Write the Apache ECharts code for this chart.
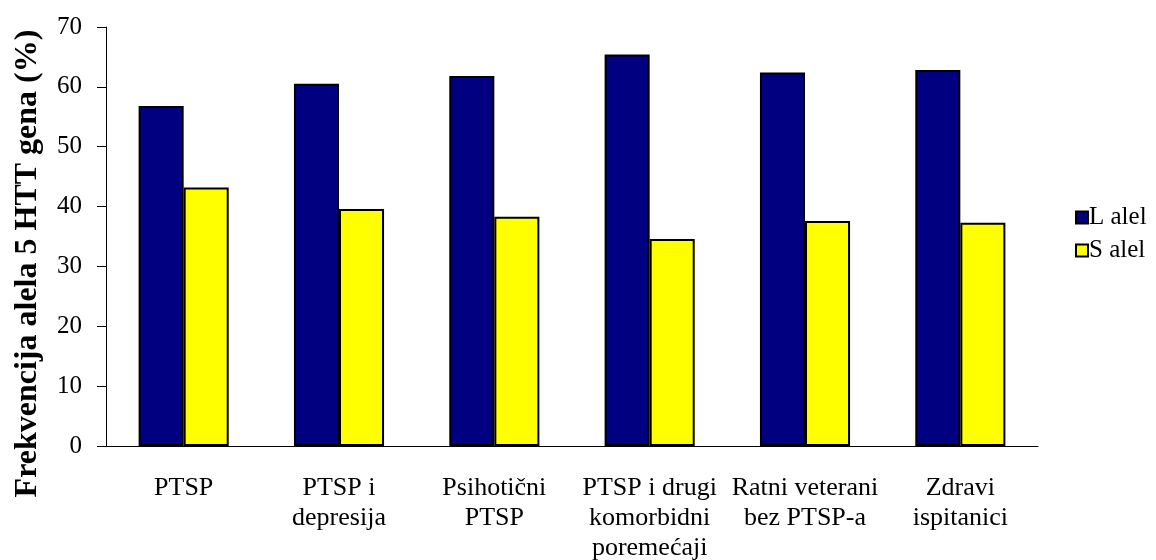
<!DOCTYPE html>
<html>
<head>
<meta charset="utf-8">
<script src="https://cdn.jsdelivr.net/npm/echarts@6/dist/echarts.min.js"></script>
<style>
    html, body { margin: 0; padding: 0; background: #fff; }
    #chart { width: 1156px; height: 560px; }
</style>
</head>
<body>
<div id="chart"></div>
<script>
    // kategorije i vrijednosti ocitane sa slike
    var categories = ['PTSP', 'PTSP i\ndepresija', 'Psihotični\nPTSP', 'PTSP i drugi\nkomorbidni\nporemećaji', 'Ratni veterani\nbez PTSP-a', 'Zdravi\nispitanici'];
    var lAlel = [56.8, 60.5, 61.8, 65.4, 62.4, 62.8];
    var sAlel = [43.2, 39.6, 38.3, 34.6, 37.6, 37.3];
    var yTicks = [0, 10, 20, 30, 40, 50, 60, 70];

    var font = "'Liberation Serif', 'Times New Roman', serif";

    var myChart = echarts.init(document.getElementById('chart'));
    var option = {
        backgroundColor: '#fff',
        animation: false,
        grid: {
            left: 106,
            right: 118,
            top: 27,
            bottom: 114,
            containLabel: false,
            outerBoundsMode: 'none'
        },
        legend: {
            orient: 'vertical',
            left: 1070,
            top: 200,
            itemWidth: 12,
            itemHeight: 12,
            itemGap: 8,
            icon: 'rect',
            textStyle: {
                fontFamily: font,
                fontSize: 25,
                color: '#000',
                padding: [0, 0, 0, -4]
            },
            itemStyle: {
                borderColor: '#000',
                borderWidth: 2
            },
            data: ['L alel', 'S alel']
        },
        xAxis: {
            type: 'category',
            data: categories,
            axisLine: { lineStyle: { color: '#000', width: 1 } },
            axisTick: { length: 9, lineStyle: { color: '#000' } },
            axisLabel: {
                interval: 0,
                margin: 27,
                fontFamily: font,
                fontSize: 26,
                lineHeight: 30,
                color: '#000'
            }
        },
        yAxis: {
            type: 'value',
            min: yTicks[0],
            max: yTicks[yTicks.length - 1],
            interval: 10,
            name: 'Frekvencija alela 5 HTT gena (%)',
            nameLocation: 'middle',
            nameRotate: 90,
            nameGap: 62,
            nameTextStyle: {
                fontFamily: font,
                fontSize: 32,
                fontWeight: 'bold',
                color: '#000',
                padding: [0, 54, 0, 0]
            },
            splitLine: { show: false },
            axisLine: { show: true, lineStyle: { color: '#000', width: 1 } },
            axisTick: { show: true, length: 9, lineStyle: { color: '#000' } },
            axisLabel: {
                margin: 24,
                fontFamily: font,
                fontSize: 25,
                color: '#000'
            }
        },
        series: [
            {
                name: 'L alel',
                type: 'bar',
                data: lAlel,
                barGap: '0%',
                barCategoryGap: '42%',
                itemStyle: { color: '#000080', borderColor: '#000', borderWidth: 2 }
            },
            {
                name: 'S alel',
                type: 'bar',
                data: sAlel,
                barGap: '0%',
                barCategoryGap: '42%',
                itemStyle: { color: '#ffff00', borderColor: '#000', borderWidth: 2 }
            }
        ]
    };
    myChart.setOption(option);
</script>
</body>
</html>
